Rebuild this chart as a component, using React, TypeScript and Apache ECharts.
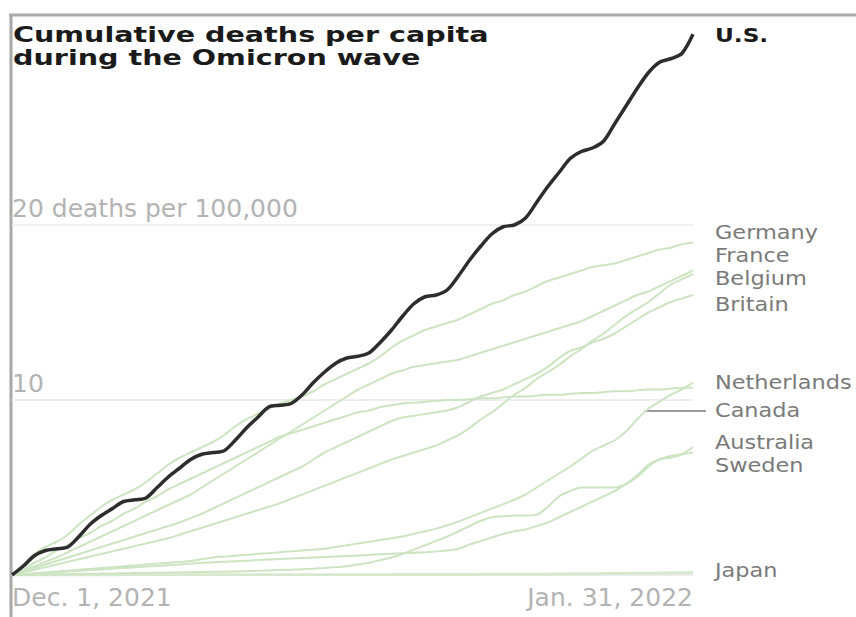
import React, { useEffect, useRef } from "react";
import * as echarts from "echarts";

// ---- categories (daily, Dec. 1, 2021 .. Jan. 31, 2022) ----
const dates: string[] = [];
for (let i = 0; i < 62; i++) {
  const d = new Date(Date.UTC(2021, 11, 1 + i));
  dates.push(d.toISOString().slice(0, 10));
}
const xTickLabels = ["Dec. 1, 2021", "Jan. 31, 2022"];
const yTickLabels: Record<number, string> = { 10: "10", 20: "20 deaths per 100,000" };
const titleLines = ["Cumulative deaths per capita", "during the Omicron wave"];

// ---- cumulative deaths per 100,000 ----
const us = [
  0, 0.5, 1.1, 1.4, 1.5, 1.6, 2.2, 2.9, 3.4, 3.8,
  4.2, 4.3, 4.4, 5.0, 5.6, 6.1, 6.6, 6.9, 7.0, 7.1,
  7.7, 8.4, 9.0, 9.6, 9.7, 9.8, 10.3, 11.0, 11.6, 12.1,
  12.4, 12.5, 12.7, 13.3, 14.0, 14.8, 15.5, 15.9, 16.0, 16.3,
  17.1, 18.0, 18.8, 19.5, 19.9, 20.0, 20.4, 21.3, 22.2, 23.0,
  23.8, 24.2, 24.4, 24.8, 25.8, 26.8, 27.8, 28.7, 29.3, 29.5,
  29.8, 30.9,
];
const germany = [
  0, 0.6, 1.2, 1.6, 1.9, 2.3, 2.9, 3.4, 3.9, 4.3,
  4.6, 4.9, 5.3, 5.8, 6.3, 6.7, 7.0, 7.3, 7.6, 8.0,
  8.5, 8.9, 9.2, 9.5, 9.8, 10.0, 10.2, 10.5, 10.9, 11.2,
  11.5, 11.8, 12.1, 12.5, 13.0, 13.4, 13.7, 14.0, 14.2, 14.4,
  14.6, 14.9, 15.2, 15.5, 15.7, 16.0, 16.2, 16.5, 16.8, 17.0,
  17.2, 17.4, 17.6, 17.7, 17.8, 18.0, 18.2, 18.4, 18.6, 18.7,
  18.9, 19.0,
];
const france = [
  0, 0.25, 0.5, 0.75, 1.0, 1.3, 1.6, 1.9, 2.2, 2.5,
  2.8, 3.1, 3.4, 3.7, 4.0, 4.3, 4.6, 5.0, 5.4, 5.8,
  6.2, 6.6, 7.0, 7.4, 7.8, 8.2, 8.6, 9.0, 9.4, 9.8,
  10.2, 10.6, 10.9, 11.2, 11.5, 11.7, 11.9, 12.0, 12.1, 12.2,
  12.3, 12.5, 12.7, 12.9, 13.1, 13.3, 13.5, 13.7, 13.9, 14.1,
  14.3, 14.5, 14.8, 15.1, 15.4, 15.7, 16.0, 16.2, 16.5, 16.8,
  17.1, 17.4,
];
const belgium = [
  0, 0.15, 0.3, 0.45, 0.6, 0.75, 0.9, 1.05, 1.2, 1.35,
  1.5, 1.65, 1.8, 1.95, 2.1, 2.3, 2.5, 2.7, 2.9, 3.1,
  3.3, 3.5, 3.7, 3.9, 4.1, 4.35, 4.6, 4.85, 5.1, 5.35,
  5.6, 5.85, 6.1, 6.35, 6.6, 6.8, 7.0, 7.2, 7.4, 7.7,
  8.0, 8.4, 8.9, 9.3, 9.8, 10.3, 10.7, 11.2, 11.6, 12.0,
  12.5, 12.9, 13.4, 13.8, 14.3, 14.8, 15.2, 15.6, 16.1, 16.6,
  16.9, 17.2,
];
const britain = [
  0, 0.2, 0.4, 0.6, 0.8, 1.0, 1.2, 1.4, 1.6, 1.8,
  2.0, 2.2, 2.4, 2.6, 2.8, 3.0, 3.25, 3.5, 3.8, 4.1,
  4.4, 4.7, 5.0, 5.3, 5.6, 5.9, 6.2, 6.6, 7.0, 7.3,
  7.6, 7.9, 8.2, 8.5, 8.8, 9.0, 9.1, 9.2, 9.3, 9.4,
  9.6, 9.9, 10.2, 10.4, 10.6, 10.9, 11.2, 11.5, 11.9, 12.4,
  12.8, 13.0, 13.3, 13.5, 13.8, 14.2, 14.6, 15.0, 15.3, 15.6,
  15.8, 16.0,
];
const netherlands = [
  0, 0.3, 0.7, 1.0, 1.4, 1.7, 2.1, 2.4, 2.8, 3.1,
  3.5, 3.8, 4.2, 4.5, 4.9, 5.2, 5.5, 5.8, 6.1, 6.4,
  6.7, 7.0, 7.3, 7.6, 7.9, 8.1, 8.3, 8.5, 8.7, 8.9,
  9.1, 9.3, 9.4, 9.6, 9.7, 9.8, 9.85, 9.9, 9.95, 10.0,
  10.0, 10.05, 10.1, 10.1, 10.15, 10.2, 10.2, 10.25, 10.3, 10.3,
  10.35, 10.4, 10.4, 10.45, 10.5, 10.5, 10.55, 10.6, 10.6, 10.65,
  10.7, 10.7,
];
const canada = [
  0, 0.05, 0.1, 0.15, 0.2, 0.25, 0.3, 0.35, 0.4, 0.45,
  0.5, 0.55, 0.6, 0.65, 0.7, 0.75, 0.8, 0.9, 1.0, 1.05,
  1.1, 1.15, 1.2, 1.25, 1.3, 1.35, 1.4, 1.45, 1.5, 1.6,
  1.7, 1.8, 1.9, 2.0, 2.1, 2.2, 2.35, 2.5, 2.65, 2.85,
  3.05, 3.3, 3.55, 3.8, 4.05, 4.3, 4.6, 5.0, 5.4, 5.8,
  6.2, 6.65, 7.1, 7.4, 7.7, 8.2, 8.9, 9.5, 9.9, 10.3,
  10.6, 11.0,
];
const australia = [
  0, 0.01, 0.02, 0.03, 0.04, 0.05, 0.06, 0.07, 0.08, 0.09,
  0.1, 0.11, 0.12, 0.13, 0.14, 0.15, 0.16, 0.17, 0.18, 0.19,
  0.2, 0.22, 0.24, 0.26, 0.28, 0.3, 0.33, 0.36, 0.4, 0.45,
  0.5, 0.6, 0.7, 0.85, 1.0, 1.2, 1.45, 1.7, 1.95, 2.2,
  2.5, 2.8, 3.1, 3.3, 3.35, 3.4, 3.4, 3.45, 3.9, 4.5,
  4.8, 5.0, 5.0, 5.0, 5.0, 5.2, 5.6, 6.2, 6.6, 6.7,
  6.9, 7.3,
];
const sweden = [
  0, 0.04, 0.08, 0.12, 0.16, 0.2, 0.24, 0.28, 0.32, 0.36,
  0.4, 0.44, 0.48, 0.52, 0.56, 0.6, 0.65, 0.7, 0.73, 0.76,
  0.79, 0.82, 0.85, 0.88, 0.91, 0.94, 0.97, 1.0, 1.03, 1.06,
  1.09, 1.12, 1.15, 1.18, 1.21, 1.24, 1.27, 1.3, 1.35, 1.4,
  1.5, 1.75, 1.95, 2.15, 2.35, 2.5, 2.6, 2.8, 3.0, 3.3,
  3.6, 3.9, 4.2, 4.5, 4.8, 5.2, 5.7, 6.3, 6.6, 6.8,
  6.9, 7.0,
];
const japan = [
  0, 0, 0, 0, 0, 0, 0, 0, 0, 0,
  0.01, 0.01, 0.01, 0.01, 0.01, 0.01, 0.01, 0.01, 0.01, 0.01,
  0.02, 0.02, 0.02, 0.02, 0.02, 0.02, 0.02, 0.02, 0.02, 0.02,
  0.02, 0.02, 0.02, 0.02, 0.02, 0.03, 0.03, 0.03, 0.03, 0.03,
  0.03, 0.03, 0.04, 0.04, 0.04, 0.04, 0.05, 0.05, 0.05, 0.06,
  0.06, 0.07, 0.07, 0.08, 0.08, 0.09, 0.1, 0.1, 0.11, 0.12,
  0.13, 0.14,
];

const countryNames = [
  "Japan", "Sweden", "Australia", "Canada", "Netherlands",
  "Britain", "Belgium", "France", "Germany",
];
const countryData = [
  japan, sweden, australia, canada, netherlands,
  britain, belgium, france, germany,
];

// label layout (pixel centres of the right-hand labels)
const labelLayout: Record<string, number> = {
  "U.S.": 35,
  Germany: 233,
  France: 256,
  Belgium: 279,
  Britain: 305,
  Netherlands: 383,
  Canada: 411,
  Australia: 443,
  Sweden: 466,
  Japan: 571,
};

const FONT = "DejaVu Sans";

export default function App() {
  const ref = useRef<HTMLDivElement>(null);

  useEffect(() => {
    if (!ref.current) return;
    const chart = echarts.init(ref.current, undefined, { renderer: "svg" });

    const greenSeries = countryNames.map((name) => ({
      name,
      type: "line",
      data: countryData[countryNames.indexOf(name)],
      showSymbol: false,
      smooth: 0.3,
      z: 2,
      lineStyle: {
        color: name === "Japan" ? "#d6e9ce" : "#cde4c3",
        width: name === "Japan" ? 3 : 2,
      },
    }));

    const baseGraphic: any[] = [
      // frame of the original screenshot
      { type: "line", shape: { x1: 9, y1: 15, x2: 856, y2: 15 }, style: { stroke: "#a8a8a8", lineWidth: 3 } },
      { type: "line", shape: { x1: 11, y1: 14, x2: 11, y2: 617 }, style: { stroke: "#a8a8a8", lineWidth: 3 } },
      ...titleLines.map((t, i) => ({
        type: "text",
        x: 13,
        y: 34 + i * 23,
        scaleX: 1.3,
        style: {
          text: t,
          font: `bold 22px "${FONT}"`,
          fill: "#1a1a1a",
          verticalAlign: "middle",
          align: "left",
        },
      })),
      {
        type: "text",
        x: 715,
        y: labelLayout["U.S."],
        scaleX: 1.16,
        style: { text: "U.S.", font: `bold 20px "${FONT}"`, fill: "#1a1a1a", verticalAlign: "middle" },
      },
      ...countryNames.map((name) => ({
        type: "text",
        x: 715,
        y: labelLayout[name],
        scaleX: 1.18,
        style: { text: name, font: `19px "${FONT}"`, fill: "#7a7a7a", verticalAlign: "middle" },
      })),
    ];

    const option: any = {
      animation: false,
      backgroundColor: "#ffffff",
      grid: { left: 12, right: 163, top: 32.5, bottom: 42, containLabel: false },
      xAxis: {
        type: "category",
        data: dates,
        boundaryGap: false,
        axisLine: { show: true, lineStyle: { color: "#eeeeee", width: 2 } },
        axisTick: { show: false },
        splitLine: { show: false },
        axisLabel: {
          interval: (i: number) => i === 0 || i === dates.length - 1,
          formatter: (_v: string, i: number) => (i === 0 ? xTickLabels[0] : xTickLabels[1]),
          color: "#b3b3b3",
          fontFamily: FONT,
          fontSize: 25,
          margin: 10,
          alignMinLabel: "left",
          alignMaxLabel: "right",
        },
      },
      yAxis: {
        type: "value",
        min: 0,
        max: 31,
        interval: 10,
        axisLine: { show: false },
        axisTick: { show: false },
        splitLine: { show: false },
        axisLabel: {
          inside: true,
          margin: 0,
          verticalAlign: "bottom",
          padding: [0, 0, 4, 0],
          formatter: (v: number) => yTickLabels[v] ?? "",
          color: "#b3b3b3",
          fontFamily: FONT,
          fontSize: 25,
        },
      },
      series: [
        ...greenSeries,
        {
          name: "U.S.",
          type: "line",
          data: us,
          showSymbol: false,
          smooth: 0.3,
          z: 5,
          lineStyle: { color: "#2d2d2d", width: 3.5 },
          markLine: {
            silent: true,
            symbol: ["none", "none"],
            label: { show: false },
            z: 1,
            lineStyle: { color: "#efefef", width: 2, type: "solid" },
            data: [{ yAxis: 10 }, { yAxis: 20 }],
          },
        },
      ],
      graphic: { elements: baseGraphic },
    };

    chart.setOption(option);

    // leader line from the Canada line to its label
    const ci = 57;
    const p = chart.convertToPixel({ gridIndex: 0 }, [ci, canada[ci]]) as number[];
    if (p && isFinite(p[0]) && isFinite(p[1])) {
      chart.setOption({
        graphic: {
          elements: [
            ...baseGraphic,
            {
              type: "line",
              shape: { x1: p[0] - 4, y1: labelLayout.Canada, x2: 706, y2: labelLayout.Canada },
              style: { stroke: "#9a9a9a", lineWidth: 2 },
            },
          ],
        },
      });
    }

    return () => chart.dispose();
  }, []);

  return (
    <div
      ref={ref}
      style={{ position: "fixed", left: 0, top: 0, width: 856, height: 617, background: "#fff" }}
    />
  );
}
